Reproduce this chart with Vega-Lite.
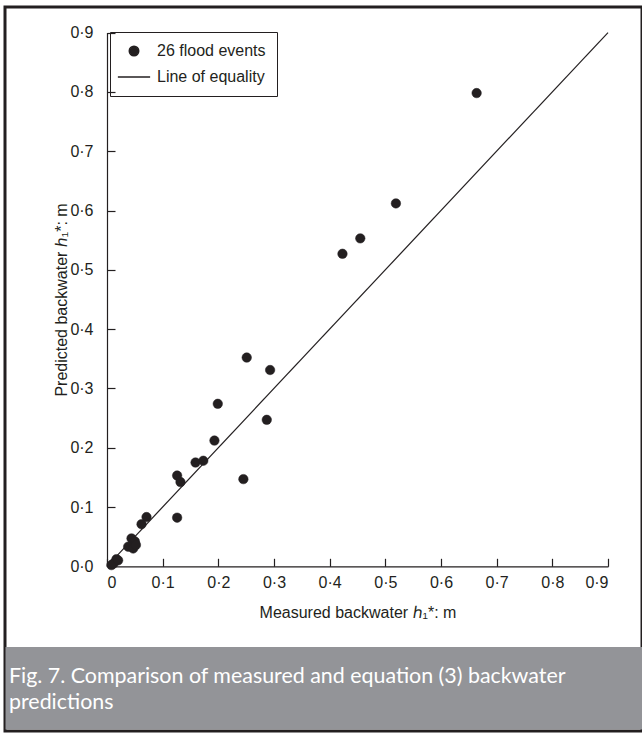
{
  "$schema": "https://vega.github.io/schema/vega-lite/v6.json",
  "width": 637,
  "height": 724,
  "autosize": {"type": "none"},
  "padding": {"left": 5, "top": 7, "right": 0, "bottom": 2},
  "background": "white",
  "view": {"stroke": "#231f20", "strokeWidth": 3},
  "config": {
    "font": "Liberation Sans",
    "axis": {
      "grid": false,
      "domainColor": "#231f20",
      "domainWidth": 1.2,
      "tickColor": "#231f20",
      "tickWidth": 1.2,
      "tickSize": -8,
      "labelFont": "Liberation Sans",
      "labelFontSize": 16,
      "labelColor": "#231f20",
      "titleFont": "Liberation Sans",
      "titleFontSize": 16,
      "titleFontWeight": "normal",
      "titleColor": "#231f20"
    }
  },
  "layer": [
    {
      "data": {"values": [{"caption": "Fig. 7"}]},
      "mark": {"type": "rect", "fill": "#939498"},
      "encoding": {
        "x": {"value": 0.5},
        "x2": {"value": 637},
        "y": {"value": 640},
        "y2": {"value": 722.5}
      }
    },
    {
      "data": {"values": [{"caption": "Fig. 7"}]},
      "mark": {"type": "text", "align": "left", "baseline": "middle", "font": "Lato", "fontSize": 21.4, "color": "#ffffff", "lineHeight": 26},
      "encoding": {
        "x": {"value": 4},
        "y": {"value": 670},
        "text": {"value": ["Fig. 7. Comparison of measured and equation (3) backwater", "predictions"]}
      }
    },
    {
      "data": {"values": [{"measured": 0, "predicted": 0}, {"measured": 0.9, "predicted": 0.9}]},
      "mark": {"type": "line", "color": "#231f20", "strokeWidth": 1.2},
      "encoding": {
        "x": {"field": "measured", "type": "quantitative", "scale": {"domain": [0, 0.9], "range": [102, 603], "nice": false, "zero": true}},
        "y": {"field": "predicted", "type": "quantitative", "scale": {"domain": [0, 0.9], "range": [559.3, 25.6], "nice": false, "zero": true}}
      }
    },
    {
      "data": {"values": [
        {"measured": 0.664, "predicted": 0.798, "series": "26 flood events"},
        {"measured": 0.519, "predicted": 0.612, "series": "26 flood events"},
        {"measured": 0.455, "predicted": 0.553, "series": "26 flood events"},
        {"measured": 0.423, "predicted": 0.527, "series": "26 flood events"},
        {"measured": 0.251, "predicted": 0.352, "series": "26 flood events"},
        {"measured": 0.293, "predicted": 0.331, "series": "26 flood events"},
        {"measured": 0.199, "predicted": 0.274, "series": "26 flood events"},
        {"measured": 0.287, "predicted": 0.247, "series": "26 flood events"},
        {"measured": 0.193, "predicted": 0.212, "series": "26 flood events"},
        {"measured": 0.159, "predicted": 0.175, "series": "26 flood events"},
        {"measured": 0.173, "predicted": 0.178, "series": "26 flood events"},
        {"measured": 0.126, "predicted": 0.153, "series": "26 flood events"},
        {"measured": 0.132, "predicted": 0.142, "series": "26 flood events"},
        {"measured": 0.245, "predicted": 0.147, "series": "26 flood events"},
        {"measured": 0.126, "predicted": 0.082, "series": "26 flood events"},
        {"measured": 0.071, "predicted": 0.083, "series": "26 flood events"},
        {"measured": 0.062, "predicted": 0.071, "series": "26 flood events"},
        {"measured": 0.044, "predicted": 0.047, "series": "26 flood events"},
        {"measured": 0.050, "predicted": 0.042, "series": "26 flood events"},
        {"measured": 0.038, "predicted": 0.033, "series": "26 flood events"},
        {"measured": 0.047, "predicted": 0.030, "series": "26 flood events"},
        {"measured": 0.052, "predicted": 0.036, "series": "26 flood events"},
        {"measured": 0.017, "predicted": 0.012, "series": "26 flood events"},
        {"measured": 0.012, "predicted": 0.005, "series": "26 flood events"},
        {"measured": 0.008, "predicted": 0.002, "series": "26 flood events"},
        {"measured": 0.020, "predicted": 0.010, "series": "26 flood events"}
      ]},
      "mark": {"type": "point", "filled": false, "fill": "#231f20", "stroke": "#231f20", "strokeWidth": 0.5, "size": 90, "opacity": 1, "fillOpacity": 1, "strokeOpacity": 1},
      "encoding": {
        "x": {
          "field": "measured", "type": "quantitative",
          "scale": {"domain": [0, 0.9], "range": [102, 603], "nice": false, "zero": true},
          "axis": {
            "orient": "bottom",
            "offset": -164.7,
            "values": [0, 0.1, 0.2, 0.3, 0.4, 0.5, 0.6, 0.7, 0.8, 0.9],
            "labelExpr": "datum.value === 0 ? '0' : replace(format(datum.value, '.1f'), '.', '·')",
            "labelPadding": 16,
            "title": "Measured backwater ℎ₁*: m",
            "titlePadding": 14
          }
        },
        "y": {
          "field": "predicted", "type": "quantitative",
          "scale": {"domain": [0, 0.9], "range": [559.3, 25.6], "nice": false, "zero": true},
          "axis": {
            "orient": "left",
            "offset": -102,
            "values": [0, 0.1, 0.2, 0.3, 0.4, 0.5, 0.6, 0.7, 0.8, 0.9],
            "labelExpr": "replace(format(datum.value, '.1f'), '.', '·')",
            "labelPadding": 22,
            "title": "Predicted backwater ℎ₁*: m",
            "titlePadding": 0
          }
        },
        "shape": {
          "field": "series", "type": "nominal",
          "scale": {"domain": ["26 flood events", "Line of equality"], "range": ["circle", "M-3.4,0L3.4,0"]},
          "legend": {
            "title": null,
            "orient": "none",
            "legendX": 105,
            "legendY": 25,
            "strokeColor": "#231f20",
            "padding": 11,
            "rowPadding": 10,
            "symbolSize": 90,
            "symbolOffset": 5,
            "labelOffset": 15,
            "labelFont": "Liberation Sans",
            "labelFontSize": 16,
            "labelColor": "#231f20",
            "encode": {
              "symbols": {
                "enter": {"fill": {"value": "#231f20"}, "stroke": {"value": "#231f20"}, "strokeWidth": {"value": 1.2}, "opacity": {"value": 1}},
                "update": {"fill": {"value": "#231f20"}, "stroke": {"value": "#231f20"}, "strokeWidth": {"value": 1.2}, "opacity": {"value": 1}}
              }
            }
          }
        }
      }
    }
  ]
}
